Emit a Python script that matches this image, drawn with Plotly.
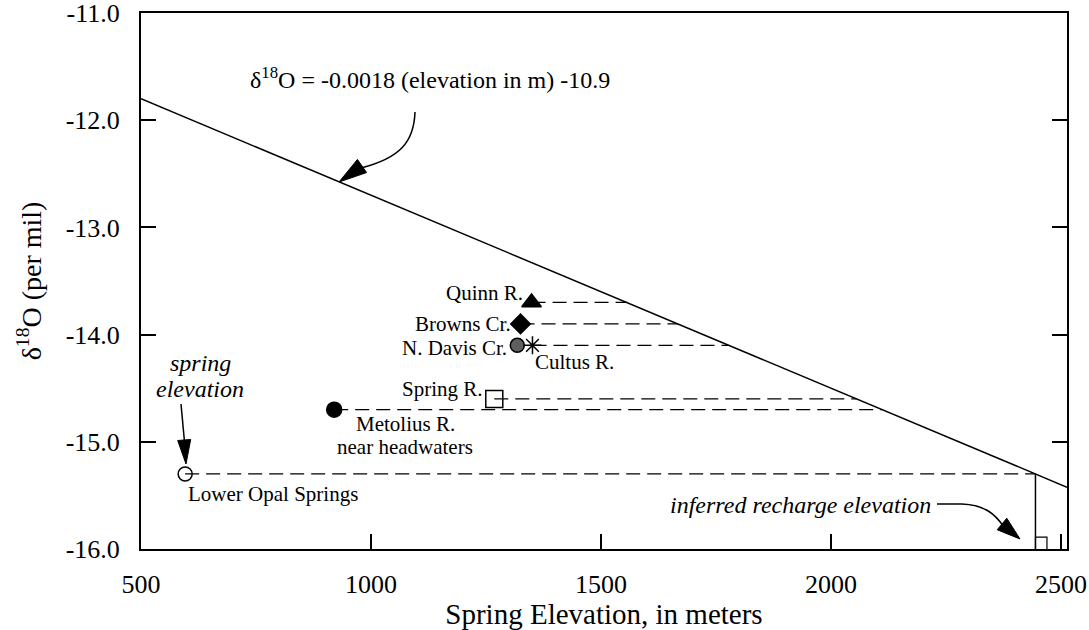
import plotly.graph_objects as go

# ---------------- data ----------------
sites = ["Quinn R.", "Browns Cr.", "N. Davis Cr.", "Cultus R.", "Spring R.",
         "Metolius R.<br>near headwaters", "Lower Opal Springs"]
elevation_m = [1349, 1325, 1318, 1351, 1268, 920, 596]
d18o = [-13.7, -13.9, -14.1, -14.1, -14.6, -14.7, -15.3]

slope = -0.0018
intercept = -10.9

x_ticks = [500, 1000, 1500, 2000, 2500]
x_tick_labels = ["500", "1000", "1500", "2000", "2500"]
y_ticks = [-16, -15, -14, -13, -12, -11]
y_tick_labels = ["-16.0", "-15.0", "-14.0", "-13.0", "-12.0", "-11.0"]

X_RANGE = [500, 2513]
Y_RANGE = [-16, -11]

# ---------------- styles ----------------
FONT = "Liberation Serif"
symbols = ["triangle-up", "diamond", "circle", "asterisk-open", "square-open", "circle", "circle-open"]
fills = ["black", "black", "#5f5f5f", "black", "black", "black", "black"]
sizes = [17, 15, 14, 15, 17, 15, 14]
label_style = [
    dict(xanchor="right", dx=-8, dy=9),
    dict(xanchor="right", dx=-9, dy=0),
    dict(xanchor="right", dx=-9, dy=-3),
    dict(xanchor="left", dx=2, dy=-17),
    dict(xanchor="right", dx=-10, dy=10),
    dict(xanchor="center", dx=71, dy=-14),
    dict(xanchor="left", dx=2, dy=-20),
]
LINE_GAP = 23

# plot-area pixel frame (for decorations drawn in paper coordinates)
L, R, T, B = 141, 1067, 13, 549


def pp(x, y):
    return (x - L) / (R - L), (B - y) / (B - T)


def fmt(x, y):
    a, b = pp(x, y)
    return f"{a:.5f},{b:.5f}"


def head_path(tip, base, hw):
    dx, dy = tip[0] - base[0], tip[1] - base[1]
    n = (dx * dx + dy * dy) ** 0.5
    px, py = -dy / n * hw, dx / n * hw
    p1 = (base[0] + px, base[1] + py)
    p2 = (base[0] - px, base[1] - py)
    return f"M {fmt(*tip)} L {fmt(*p1)} L {fmt(*p2)} Z"


fig = go.Figure()

# regression line
line_y = [slope * x + intercept for x in X_RANGE]
fig.add_trace(go.Scatter(x=X_RANGE, y=line_y, mode="lines",
                         line=dict(color="black", width=1.5), hoverinfo="skip"))

# dashed projections to the regression line
for i in range(len(sites)):
    if any(d18o[j] == d18o[i] and elevation_m[j] > elevation_m[i] for j in range(len(sites))):
        continue
    x_end = (d18o[i] - intercept) / slope
    fig.add_trace(go.Scatter(x=[elevation_m[i], x_end], y=[d18o[i], d18o[i]], mode="lines",
                             line=dict(color="black", width=1.3, dash="14px,7px"),
                             hoverinfo="skip"))

# inferred recharge elevation for Lower Opal Springs
i_lo = len(sites) - 1
recharge = (d18o[i_lo] - intercept) / slope
fig.add_trace(go.Scatter(x=[recharge, recharge], y=[d18o[i_lo], Y_RANGE[0]], mode="lines",
                         line=dict(color="black", width=1.5), hoverinfo="skip"))
fig.add_trace(go.Scatter(x=[recharge, recharge, recharge + 25, recharge + 25],
                         y=[Y_RANGE[0], Y_RANGE[0] + 0.11, Y_RANGE[0] + 0.11, Y_RANGE[0]],
                         mode="lines", line=dict(color="black", width=1.2), hoverinfo="skip"))

# site markers
for i in range(len(sites)):
    fig.add_trace(go.Scatter(
        x=[elevation_m[i]], y=[d18o[i]], mode="markers", name=sites[i].replace("<br>", " "),
        marker=dict(symbol=symbols[i], size=sizes[i], color=fills[i],
                    line=dict(color="black", width=1.5))))

annotations = []
for i, s in enumerate(sites):
    st = label_style[i]
    for k, part in enumerate(s.split("<br>")):
        annotations.append(dict(
            x=elevation_m[i], y=d18o[i], xref="x", yref="y", text=part, showarrow=False,
            xanchor=st["xanchor"], yanchor="middle", xshift=st["dx"], yshift=st["dy"] - k * LINE_GAP,
            borderpad=0, font=dict(family=FONT, size=21, color="black")))

# equation label
ex, ey = pp(248, 78)
annotations.append(dict(x=ex, y=ey, xref="paper", yref="paper", showarrow=False,
                        xanchor="left", yanchor="middle",
                        text=f"δ<sup>18</sup>O = {slope} (elevation in m) {intercept}",
                        font=dict(family=FONT, size=24, color="black")))
# spring elevation
for k, part in enumerate(["spring", "elevation"]):
    sx, sy = pp(200, 363 + 26 * k)
    annotations.append(dict(x=sx, y=sy, xref="paper", yref="paper", showarrow=False,
                            xanchor="center", yanchor="middle", text=f"<i>{part}</i>",
                            borderpad=0, font=dict(family=FONT, size=24, color="black")))
# inferred recharge elevation
rx, ry = pp(933, 505)
annotations.append(dict(x=rx, y=ry, xref="paper", yref="paper", showarrow=False,
                        xanchor="right", yanchor="middle", text="<i>inferred recharge elevation</i>",
                        font=dict(family=FONT, size=24, color="black")))

shapes = []
# arrow to regression line
shapes.append(dict(type="path", xref="paper", yref="paper",
                   path=f"M {fmt(415,112)} C {fmt(414,142)} {fmt(400,158)} {fmt(361,168)}",
                   line=dict(color="black", width=1.5)))
shapes.append(dict(type="path", xref="paper", yref="paper",
                   path=head_path((339, 182), (362, 166), 8),
                   line=dict(color="black", width=1), fillcolor="black"))
# spring elevation arrow
shapes.append(dict(type="path", xref="paper", yref="paper",
                   path=f"M {fmt(181,404)} L {fmt(184.5,442)}",
                   line=dict(color="black", width=1.5)))
shapes.append(dict(type="path", xref="paper", yref="paper",
                   path=head_path((186, 464), (184.2, 440), 6.5),
                   line=dict(color="black", width=1), fillcolor="black"))
# recharge arrow
shapes.append(dict(type="path", xref="paper", yref="paper",
                   path=f"M {fmt(937,504)} L {fmt(962,504)} C {fmt(985,505)} {fmt(995,514)} {fmt(1004,527)}",
                   line=dict(color="black", width=1.5)))
shapes.append(dict(type="path", xref="paper", yref="paper",
                   path=head_path((1020, 539), (1002, 524), 7.5),
                   line=dict(color="black", width=1), fillcolor="black"))

fig.update_layout(
    width=1089, height=630,
    margin=dict(l=L, r=1089 - R, t=T, b=630 - B),
    paper_bgcolor="white", plot_bgcolor="white",
    showlegend=False,
    font=dict(family=FONT, color="black"),
    annotations=annotations, shapes=shapes,
)
fig.update_xaxes(
    range=X_RANGE, tickvals=x_ticks, ticktext=x_tick_labels, automargin=False,
    ticks="inside", ticklen=15, tickwidth=1.5, tickcolor="black",
    showline=True, linewidth=2, linecolor="black", mirror=True,
    showgrid=False, zeroline=False, ticklabelstandoff=11, ticklabeloverflow="allow",
    tickfont=dict(family=FONT, size=26, color="black"),
    title=dict(text="Spring Elevation, in meters", standoff=7,
               font=dict(family=FONT, size=29, color="black")),
)
fig.update_yaxes(
    range=Y_RANGE, tickvals=y_ticks, ticktext=y_tick_labels, automargin=False,
    ticks="inside", ticklen=15, tickwidth=1.5, tickcolor="black",
    showline=True, linewidth=2, linecolor="black", mirror="allticks",
    showgrid=False, zeroline=False, ticklabelstandoff=14, ticklabeloverflow="allow",
    tickfont=dict(family=FONT, size=26, color="black"),
    title=dict(text="δ<sup>18</sup>O (per mil)", standoff=16,
               font=dict(family=FONT, size=28, color="black")),
)

fig.write_html("out.html")
